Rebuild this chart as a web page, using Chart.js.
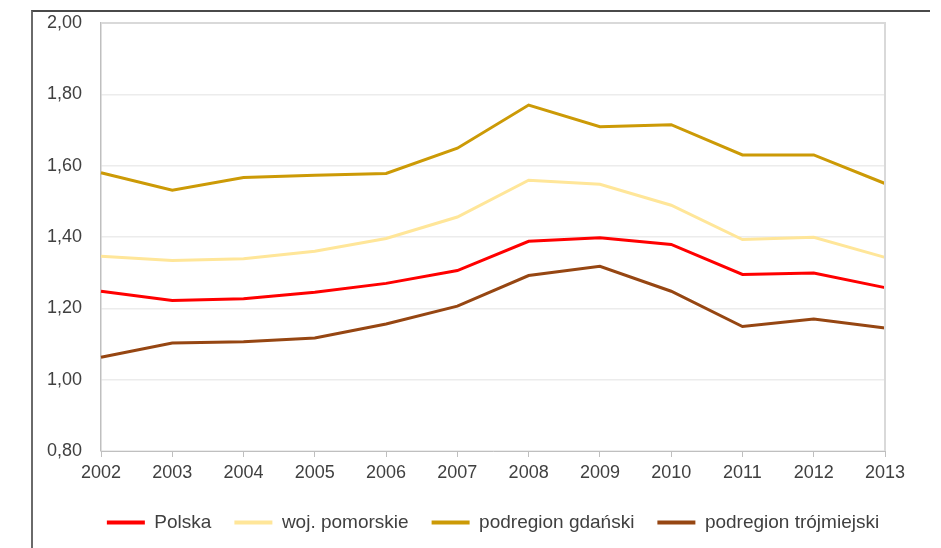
<!DOCTYPE html>
<html lang="pl">
<head>
<meta charset="utf-8">
<script src="https://cdn.jsdelivr.net/npm/chart.js@4/dist/chart.umd.min.js"></script>
<style>
  html, body { margin: 0; padding: 0; background: #fff; }
  #wrap { position: relative; width: 941px; height: 548px; overflow: hidden; }
  #frame { position: absolute; left: 31px; top: 10px; width: 899px; height: 560px;
           border-top: 2px solid #4a4a4a; border-left: 2px solid #6a6a6a; box-sizing: border-box; }
  #c { position: absolute; left: 0; top: 0; }
</style>
</head>
<body>
<div id="wrap">
  <div id="frame"></div>
  <canvas id="c" width="941" height="548"></canvas>
</div>
<script>
// Years on the horizontal axis
const years = ['2002','2003','2004','2005','2006','2007','2008','2009','2010','2011','2012','2013'];

// Series values
const polska      = [1.248, 1.222, 1.227, 1.245, 1.270, 1.306, 1.388, 1.398, 1.379, 1.295, 1.299, 1.258];
const pomorskie   = [1.346, 1.334, 1.339, 1.360, 1.396, 1.456, 1.559, 1.548, 1.489, 1.393, 1.399, 1.343];
const gdanski     = [1.580, 1.531, 1.567, 1.573, 1.578, 1.649, 1.770, 1.709, 1.715, 1.630, 1.630, 1.550];
const trojmiejski = [1.063, 1.103, 1.106, 1.117, 1.156, 1.206, 1.292, 1.318, 1.248, 1.149, 1.170, 1.145];

// Series names
const seriesNames = ['Polska', 'woj. pomorskie', 'podregion gdański', 'podregion trójmiejski'];

// Y axis range
const yMin = 0.8, yMax = 2.0, yStep = 0.2;

const colors = ['#ff0000', '#ffe699', '#cc9a06', '#964612'];
const seriesData = [polska, pomorskie, gdanski, trojmiejski];

const fontFamily = "'Liberation Sans', Arial, sans-serif";

// Light border on the top and right edges of the plot area
const plotBorder = {
  id: 'plotBorder',
  afterDraw(chart) {
    const { ctx, chartArea: a } = chart;
    ctx.save();
    ctx.strokeStyle = '#d9d9d9';
    ctx.lineWidth = 2;
    ctx.beginPath();
    ctx.moveTo(a.left, a.top);
    ctx.lineTo(a.right, a.top);
    ctx.lineTo(a.right, a.bottom);
    ctx.stroke();
    ctx.restore();
  }
};

// Centre the legend row under the plot area instead of the whole canvas
const legendUnderPlot = {
  id: 'legendUnderPlot',
  afterLayout(chart) {
    const lg = chart.legend, a = chart.chartArea;
    if (!lg) return;
    const shift = (a.left + a.right) / 2 - (lg.left + lg.right) / 2;
    lg.left += shift;
    lg.right += shift;
  }
};

new Chart(document.getElementById('c'), {
  type: 'line',
  data: {
    labels: years,
    datasets: seriesNames.map((name, i) => ({
      label: name,
      data: seriesData[i],
      borderColor: colors[i],
      backgroundColor: colors[i],
      borderWidth: 3,
      pointRadius: 0,
      pointHoverRadius: 0,
      tension: 0,
      fill: false
    }))
  },
  options: {
    responsive: false,
    animation: false,
    events: [],
    layout: { padding: { top: 23, right: 56, bottom: 6, left: 0 } },
    scales: {
      x: {
        offset: false,
        grid: { drawOnChartArea: false, drawTicks: true, tickLength: 6, color: '#bfbfbf' },
        border: { color: '#bfbfbf', width: 1 },
        ticks: { color: '#404040', font: { family: fontFamily, size: 18 }, padding: 5, maxRotation: 0, autoSkip: false },
        afterFit(s) { s.height = 39; }
      },
      y: {
        min: yMin,
        max: yMax,
        grid: { color: '#ececec', lineWidth: 1.5, drawTicks: false },
        border: { color: '#bfbfbf', width: 1.5 },
        ticks: {
          stepSize: yStep,
          padding: 19,
          color: '#404040',
          font: { family: fontFamily, size: 18 },
          callback: v => v.toFixed(2).replace('.', ',')
        },
        afterFit(s) {
          s.width = 101;
          // the outer layout padding already leaves room for the end labels
          s.paddingTop = 0;
          s.paddingBottom = 0;
        }
      }
    },
    plugins: {
      legend: {
        position: 'bottom',
        labels: {
          color: '#404040',
          font: { family: fontFamily, size: 19 },
          boxWidth: 38,
          boxHeight: 4,
          padding: 23,
          generateLabels(chart) {
            return chart.data.datasets.map((d, i) => ({
              text: d.label,
              fillStyle: d.borderColor,
              strokeStyle: d.borderColor,
              lineWidth: 0,
              fontColor: '#404040',
              datasetIndex: i,
              hidden: false
            }));
          }
        }
      },
      tooltip: { enabled: false }
    }
  },
  plugins: [plotBorder, legendUnderPlot]
});
</script>
</body>
</html>
